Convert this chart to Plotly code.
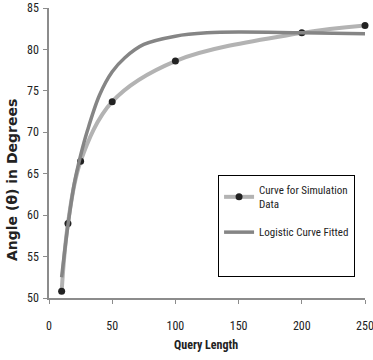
import plotly.graph_objects as go

# Simulation data
sim_x = [10, 15, 25, 50, 100, 200, 250]
sim_y = [50.8, 59.0, 66.5, 73.7, 78.6, 82.0, 82.9]

# Logistic curve fitted
fit_x = [10, 15, 20, 25, 30, 40, 50, 60, 75, 100, 125, 150, 200, 250]
fit_y = [52.5, 58.8, 63.8, 67.2, 70.0, 74.5, 77.3, 79.0, 80.6, 81.6, 82.0, 82.1, 82.0, 81.9]

x_ticks = [0, 50, 100, 150, 200, 250]
y_ticks = [50, 55, 60, 65, 70, 75, 80, 85]

narrow = "Liberation Sans Narrow, Roboto Condensed, Roboto, sans-serif"

fig = go.Figure()
fig.add_trace(go.Scatter(
    x=sim_x, y=sim_y, mode="lines+markers", name="Curve for Simulation<br>Data",
    line=dict(color="#b3b3b3", width=4, shape="spline", smoothing=1.0),
    marker=dict(color="#222222", size=7),
    cliponaxis=False, legendgroup="a",
))
fig.add_trace(go.Scatter(
    x=fit_x, y=fit_y, mode="lines", name="Logistic Curve Fitted",
    line=dict(color="#858585", width=3.5, shape="spline", smoothing=1.0),
    cliponaxis=False, legendgroup="b",
))
# invisible spacer entry to reproduce the empty space at the bottom of the legend box
fig.add_trace(go.Scatter(
    x=[None], y=[None], mode="lines", name=" ",
    line=dict(color="rgba(0,0,0,0)", width=0),
    legendgroup="c", hoverinfo="skip",
))

fig.update_layout(
    width=373, height=360,
    margin=dict(l=49, r=8, t=8, b=62),
    paper_bgcolor="white", plot_bgcolor="white",
    font=dict(family=narrow, size=12, color="#222222"),
    showlegend=True,
    legend=dict(
        x=0.535, y=0.424, xanchor="left", yanchor="top",
        bordercolor="#000000", borderwidth=1, bgcolor="white",
        font=dict(family=narrow, size=11, color="#222222"),
        itemwidth=30, tracegroupgap=10,
    ),
    xaxis=dict(
        range=[0, 250], tickvals=x_ticks, ticktext=[str(v) for v in x_ticks],
        showgrid=False, zeroline=False, showline=True, linecolor="#8c8c8c", linewidth=1.5,
        ticks="outside", ticklen=4, tickcolor="#8c8c8c", ticklabelstandoff=12,
        ticklabeloverflow="allow", automargin=False,
    ),
    yaxis=dict(
        range=[50, 85], tickvals=y_ticks, ticktext=[str(v) for v in y_ticks],
        showgrid=False, zeroline=False, showline=True, linecolor="#8c8c8c", linewidth=1.5,
        ticks="outside", ticklen=4, tickcolor="#8c8c8c", ticklabelstandoff=2,
        ticklabeloverflow="allow", automargin=False,
    ),
    annotations=[
        dict(text="<b>Query Length</b>", xref="paper", yref="paper",
             x=0.497, y=-0.163, xanchor="center", yanchor="middle", showarrow=False,
             font=dict(family=narrow, size=12, color="#222222")),
        dict(text="<b>Angle (θ) in Degrees</b>", xref="paper", yref="paper",
             x=-0.117, y=0.407, xanchor="center", yanchor="middle", showarrow=False,
             textangle=-90,
             font=dict(family="DejaVu Sans", size=14, color="#222222")),
    ],
)

fig.write_html("out.html", config={"displayModeBar": False},
               post_script="document.body.style.margin='0';")
